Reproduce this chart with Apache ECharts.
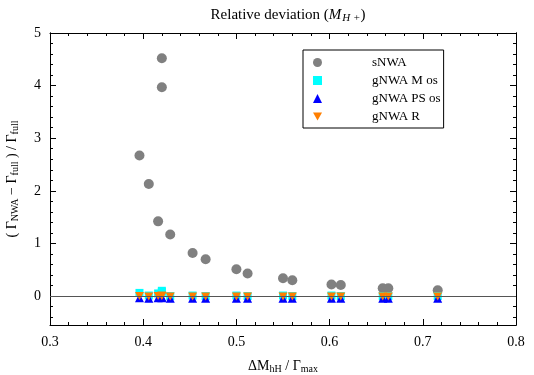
<!DOCTYPE html>
<html>
<head>
<meta charset="utf-8">
<script src="https://cdn.jsdelivr.net/npm/echarts@6/dist/echarts.min.js"></script>
<style>
  html, body { margin: 0; padding: 0; background: #fff; }
  #chart { width: 534px; height: 375px; }
</style>
</head>
<body>
<div id="chart"></div>
<script>
// mass splitting / width, one entry per benchmark point
var xVals = [0.396, 0.406, 0.416, 0.420, 0.420, 0.429, 0.453, 0.467, 0.500, 0.512,
             0.550, 0.560, 0.602, 0.612, 0.657, 0.663, 0.716];
// relative deviations
var sNWA  = [2.67, 2.13, 1.42, 4.52, 3.97, 1.17, 0.82, 0.70, 0.51, 0.43,
             0.34, 0.30, 0.22, 0.21, 0.15, 0.15, 0.11];
var gMos  = [0.06, 0.01, 0.05, 0.10, 0.08, 0.00, 0.01, 0.00, 0.01, 0.00,
             0.01, 0.00, 0.01, 0.00, 0.00, 0.00, 0.00];
var gPSos = [-0.03, -0.04, -0.03, -0.02, -0.03, -0.04, -0.04, -0.04, -0.04, -0.04,
             -0.04, -0.04, -0.04, -0.04, -0.04, -0.04, -0.04];
var gR    = [0.00, -0.01, 0.00, 0.01, 0.00, -0.01, -0.01, -0.01, -0.01, -0.01,
             -0.01, -0.01, -0.01, -0.01, -0.01, -0.01, -0.01];
var yMajor = [0, 1, 2, 3, 4, 5];
var yMinor = [-0.4, -0.2, 0.2, 0.4, 0.6, 0.8, 1.2, 1.4, 1.6, 1.8, 2.2, 2.4, 2.6, 2.8,
              3.2, 3.4, 3.6, 3.8, 4.2, 4.4, 4.6, 4.8];

function pairs(ys) {
  return xVals.map(function (x, i) { return [x, ys[i]]; });
}

var serif = 'Liberation Serif';
var downTri = 'path://M0,0 L10,0 L5,9 Z';

var myChart = echarts.init(document.getElementById('chart'));

// shared look for the y axes (left/right, major/minor)
function yAx(pos, vals, len, showLabel) {
  return {
    type: 'value', position: pos, min: -0.55, max: 5,
    axisLine: { show: true, onZero: false, lineStyle: { color: '#000', width: 1 } },
    axisTick: { show: true, inside: true, length: len, customValues: vals,
                lineStyle: { color: '#000' } },
    axisLabel: { show: showLabel, customValues: vals, margin: 9,
                 fontFamily: serif, fontSize: 14, color: '#000' },
    splitLine: { show: false }
  };
}

// same for the x axes (bottom with labels, top mirror)
function xAx(pos, showLabel) {
  return {
    type: 'value', min: 0.3, max: 0.8, interval: 0.1, position: pos,
    axisLine: { show: true, onZero: false, lineStyle: { color: '#000', width: 1 } },
    axisTick: { show: true, inside: true, length: 6, lineStyle: { color: '#000' } },
    minorTick: { show: true, splitNumber: 5, length: 3, lineStyle: { color: '#000' } },
    axisLabel: { show: showLabel, fontFamily: serif, fontSize: 14, color: '#000', margin: 10,
                 formatter: function (v) { return v.toFixed(1); } },
    splitLine: { show: false }
  };
}

var option = {
  backgroundColor: '#fff',
  animation: false,
  title: {
    text: 'Relative deviation ({i|M}{sub|H +})',
    left: 283, top: 2, textAlign: 'center',
    textStyle: {
      fontFamily: serif, fontSize: 15, fontWeight: 'normal', color: '#000',
      rich: {
        i: { fontFamily: serif, fontSize: 15, fontStyle: 'italic', color: '#000' },
        sub: { fontFamily: serif, fontSize: 11, fontStyle: 'italic', color: '#000',
               padding: [6, 0, 0, 1] }
      }
    }
  },
  legend: {
    orient: 'vertical', left: 303, top: 50,
    padding: [6, 3, 5, 10],
    itemGap: 5, itemWidth: 9, itemHeight: 9,
    backgroundColor: '#fff', borderColor: '#000', borderWidth: 1,
    textStyle: { fontFamily: serif, fontSize: 13, color: '#000',
                 padding: [0, 0, 0, 45] },
    data: [
      { name: 'sNWA', icon: 'circle' },
      { name: 'gNWA M os', icon: 'rect' },
      { name: 'gNWA PS os', icon: 'triangle' },
      { name: 'gNWA R', icon: downTri }
    ]
  },
  grid: { left: 50, right: 18, top: 33, bottom: 50, outerBoundsMode: 'none' },
  xAxis: [
    Object.assign(xAx('bottom', true), {
      name: 'ΔM{sub|hH} / Γ{sub|max}', nameLocation: 'middle', nameGap: 33,
      nameTextStyle: { fontFamily: serif, fontSize: 14, color: '#000',
        rich: { sub: { fontFamily: serif, fontSize: 10, color: '#000', padding: [6, 0, 0, 0] } } }
    }),
    xAx('top', false)
  ],
  yAxis: [
    Object.assign(yAx('left', yMajor, 6, true), {
      name: '( Γ{sub|NWA} − Γ{sub|full} ) / Γ{sub|full}',
      nameLocation: 'middle', nameGap: 30, nameRotate: 90,
      nameTextStyle: { fontFamily: serif, fontSize: 14, color: '#000',
        rich: { sub: { fontFamily: serif, fontSize: 10, color: '#000', padding: [6, 0, 0, 0] } } }
    }),
    yAx('left', yMinor, 3, false),
    yAx('right', yMajor, 6, false),
    yAx('right', yMinor, 3, false)
  ],
  series: [
    {
      name: 'sNWA', type: 'scatter', symbol: 'circle', symbolSize: 10,
      itemStyle: { color: '#808080', opacity: 1 },
      data: pairs(sNWA),
      markLine: {
        silent: true, symbol: 'none', label: { show: false },
        lineStyle: { color: '#555', width: 1.2, type: 'solid' },
        data: [{ yAxis: 0 }]
      }
    },
    {
      name: 'gNWA M os', type: 'scatter', symbol: 'rect', symbolSize: 8,
      itemStyle: { color: '#00ffff', opacity: 1 },
      data: pairs(gMos)
    },
    {
      name: 'gNWA PS os', type: 'scatter', symbol: 'triangle', symbolSize: 9,
      itemStyle: { color: '#0000ff', opacity: 1 },
      data: pairs(gPSos)
    },
    {
      name: 'gNWA R', type: 'scatter', symbol: downTri, symbolSize: [9, 8],
      itemStyle: { color: '#ff7f00', opacity: 1 },
      data: pairs(gR)
    }
  ]
};

myChart.setOption(option);
</script>
</body>
</html>
